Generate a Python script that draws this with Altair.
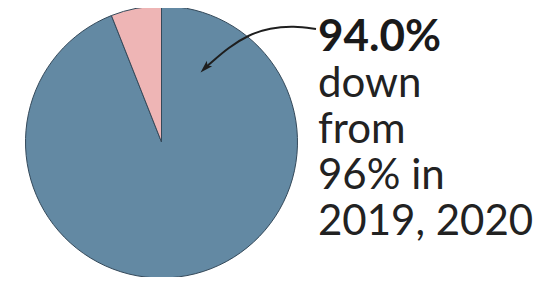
import altair as alt
import pandas as pd

# Data
categories = ["Yes", "No"]
values = [94.0, 6.0]
slice_colors = ["#6389a3", "#eeb5b5"]

headline = "94.0%"
caption_lines = ["down", "from", "96% in", "2019, 2020"]

# Annotation arrow path (chart coordinates, top-left origin)
arrow_x = [308, 286, 262, 240, 220, 205, 197]
arrow_y = [21, 18, 20, 27, 40, 53, 60]

W, H = 535, 269

pie_df = pd.DataFrame({"cat": categories, "val": values, "order": [0, 1]})

pie = alt.Chart(pie_df).mark_arc(
    outerRadius=136, stroke="#34495a", strokeWidth=1
).encode(
    theta=alt.Theta("val:Q", stack=True),
    color=alt.Color("cat:N", scale=alt.Scale(domain=categories, range=slice_colors), legend=None),
    order=alt.Order("order:Q"),
    x=alt.value(153.5),
    y=alt.value(134),
)

xs = alt.Scale(domain=[0, W], range=[0, W])
ys = alt.Scale(domain=[0, H], range=[0, H])

arrow_df = pd.DataFrame({"x": arrow_x, "y": arrow_y, "i": list(range(len(arrow_x)))})
arrow = alt.Chart(arrow_df).mark_line(
    color="#1e1e1e", strokeWidth=2, interpolate="basis"
).encode(
    x=alt.X("x:Q", scale=xs, axis=None),
    y=alt.Y("y:Q", scale=ys, axis=None),
    order="i:Q",
)

head_df = pd.DataFrame({"x": [arrow_x[-1]], "y": [arrow_y[-1]]})
head = alt.Chart(head_df).mark_point(
    shape="M0,-1L0.6,1L0,0.55L-0.6,1Z", filled=True, color="#1e1e1e", size=160, angle=225, opacity=1
).encode(
    x=alt.X("x:Q", scale=xs, axis=None),
    y=alt.Y("y:Q", scale=ys, axis=None),
)

head_txt = alt.Chart(pd.DataFrame({"t": [headline], "x": [310], "y": [43]})).mark_text(
    font="Lato", fontSize=44, fontWeight="bold", align="left", baseline="alphabetic", color="#1a1a1a"
).encode(
    x=alt.X("x:Q", scale=xs, axis=None),
    y=alt.Y("y:Q", scale=ys, axis=None),
    text="t:N",
)

cap_txt = alt.Chart(pd.DataFrame({"x": [310], "y": [89]})).mark_text(
    font="Lato", fontSize=42, align="left", baseline="alphabetic", color="#222222",
    lineHeight=46, text=caption_lines
).encode(
    x=alt.X("x:Q", scale=xs, axis=None),
    y=alt.Y("y:Q", scale=ys, axis=None),
)

chart = alt.layer(pie, arrow, head, head_txt, cap_txt).properties(
    width=W, height=H, padding=0, autosize=alt.AutoSizeParams(type="none"),
    background="white"
).configure_view(stroke=None)

chart.save("out.html", embed_options={"renderer": "svg", "actions": False})
